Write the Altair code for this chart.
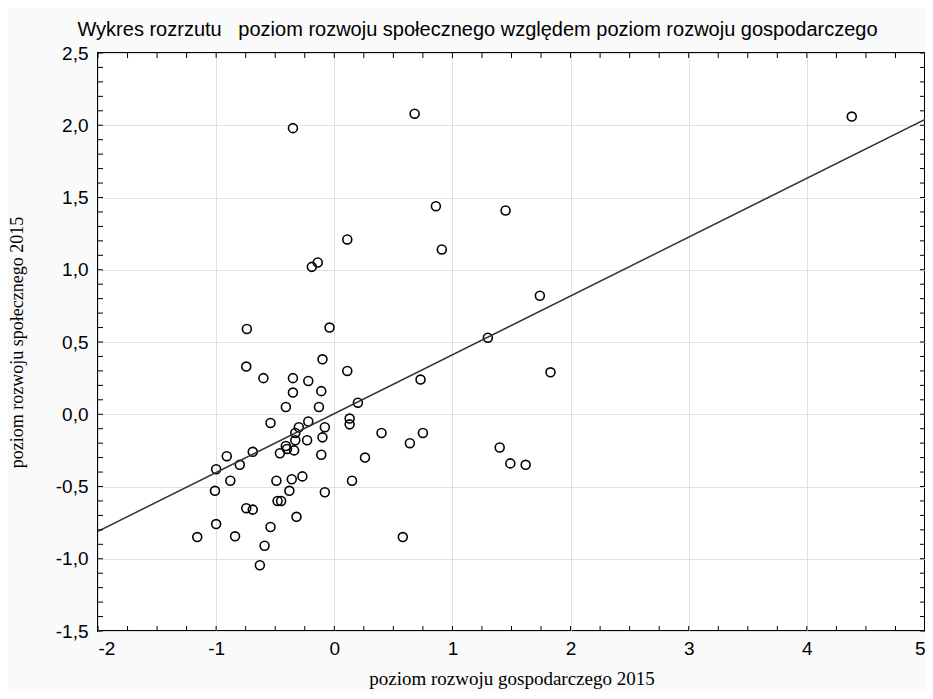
import altair as alt
import pandas as pd

# --- data ---
gosp = [4.38, -0.35, 0.68, 0.86, 1.45, 0.91, 0.11, -0.14, -0.19, 1.74,
        -0.74, -0.04, 1.30, -0.10, -0.745, 0.11, 1.83, -0.60, -0.35, 0.73,
        -0.22, -0.11, -0.35, -0.41, -0.13, 0.20, 0.13, 0.13, -0.54, -0.22,
        -0.30, -0.33, -0.08, 0.40, 0.75, 0.64, 1.40, 1.49, 1.62, -0.33,
        -0.23, -0.10, -0.41, -0.40, -0.46, -0.34, -0.11, -0.69, -0.91, 0.26,
        -0.80, -1.00, -0.88, -0.49, -0.36, -0.27, 0.15, -1.01, -0.38, -0.08,
        -0.48, -0.45, -0.745, -0.69, -0.32, -1.00, -0.54, -1.16, -0.84, -0.59,
        -0.63, 0.58]
spol = [2.06, 1.98, 2.08, 1.44, 1.41, 1.14, 1.21, 1.05, 1.02, 0.82,
        0.59, 0.60, 0.53, 0.38, 0.33, 0.30, 0.29, 0.25, 0.25, 0.24,
        0.23, 0.16, 0.15, 0.05, 0.05, 0.08, -0.03, -0.07, -0.06, -0.05,
        -0.09, -0.13, -0.09, -0.13, -0.13, -0.20, -0.23, -0.34, -0.35, -0.18,
        -0.18, -0.16, -0.22, -0.24, -0.27, -0.25, -0.28, -0.26, -0.29, -0.30,
        -0.35, -0.38, -0.46, -0.46, -0.45, -0.43, -0.46, -0.53, -0.53, -0.54,
        -0.60, -0.60, -0.65, -0.66, -0.71, -0.76, -0.78, -0.85, -0.845, -0.91,
        -1.045, -0.85]

# fitted line endpoints
fit_x = [-2.0, 5.0]
fit_y = [-0.81, 2.04]

x_ticks = [-2, -1, 0, 1, 2, 3, 4, 5]
y_ticks = [-1.5, -1.0, -0.5, 0.0, 0.5, 1.0, 1.5, 2.0, 2.5]
x_minor = [-2 + 0.25 * i for i in range(29)]
y_minor = [round(-1.5 + 0.1 * i, 2) for i in range(41)]

title = "Wykres rozrzutu\u00a0\u00a0\u00a0poziom rozwoju społecznego względem poziom rozwoju gospodarczego"
xlab = "poziom rozwoju gospodarczego 2015"
ylab = "poziom rozwoju społecznego 2015"

W, H = 827, 578

pts = pd.DataFrame({"x": gosp, "y": spol})
fit = pd.DataFrame({"x": fit_x, "y": fit_y})
xm = pd.DataFrame({"x": x_minor})
ym = pd.DataFrame({"y": y_minor})

xscale = alt.Scale(domain=[-2, 5], nice=False, zero=False)
yscale = alt.Scale(domain=[-1.5, 2.5], nice=False, zero=False)

label_font = "Liberation Sans"
serif = "Liberation Serif"

X = alt.X("x:Q", scale=xscale, title=xlab,
          axis=alt.Axis(values=x_ticks,
                        labelExpr="replace(format(datum.value, 'd'), '\u2212', '-')",
                        grid=True, gridColor="#e0e0e0",
                        tickSize=0, domain=False, labelFontSize=19, labelFont=label_font,
                        labelColor="black", labelPadding=8, titleFont=serif,
                        titleFontSize=19, titleFontWeight="normal", titleColor="black",
                        titleX=W / 2, titleY=53, titleBaseline="alphabetic",
                        titleAlign="center"))
Y = alt.Y("y:Q", scale=yscale, title=ylab,
          axis=alt.Axis(values=y_ticks,
                        labelExpr="replace(replace(format(datum.value, '.1f'), '.', ','), '\u2212', '-')",
                        grid=True, gridColor="#e0e0e0", tickSize=0, domain=False,
                        labelFontSize=19, labelFont=label_font, labelColor="black",
                        labelPadding=10, titleFont=serif, titleFontSize=18,
                        titleFontWeight="normal", titleColor="black",
                        titleX=-76, titleY=H / 2, titleAngle=-90,
                        titleBaseline="alphabetic", titleAlign="center"))

points = alt.Chart(pts).mark_point(shape="circle", filled=False, color="black",
                                   size=80, strokeWidth=1.6, opacity=1).encode(x=X, y=Y)

line = alt.Chart(fit).mark_line(color="#333333", strokeWidth=1.5, clip=True).encode(
    x=alt.X("x:Q", scale=xscale), y=alt.Y("y:Q", scale=yscale))

tick_style = dict(color="black", strokeWidth=1)
bot = alt.Chart(xm).mark_rule(**tick_style).encode(
    x=alt.X("x:Q", scale=xscale), y=alt.value(H), y2=alt.value(H - 5))
top = alt.Chart(xm).mark_rule(**tick_style).encode(
    x=alt.X("x:Q", scale=xscale), y=alt.value(0), y2=alt.value(5))
left = alt.Chart(ym).mark_rule(**tick_style).encode(
    y=alt.Y("y:Q", scale=yscale), x=alt.value(0), x2=alt.value(5))
right = alt.Chart(ym).mark_rule(**tick_style).encode(
    y=alt.Y("y:Q", scale=yscale), x=alt.value(W), x2=alt.value(W - 5))

chart = alt.layer(points, line, bot, top, left, right).properties(
    width=W, height=H,
    autosize=alt.AutoSizeParams(type="none"),
    padding={"left": 90, "top": 45, "right": 0, "bottom": 60},
    background="#fafafa",
    title=alt.TitleParams(title, font=label_font, fontSize=20, fontWeight="normal",
                          color="black", anchor="middle", dx=-34, offset=4),
).configure_view(stroke="black", strokeWidth=2, fill="white")

chart.save("out.html", embed_options={"renderer": "svg", "actions": False})
